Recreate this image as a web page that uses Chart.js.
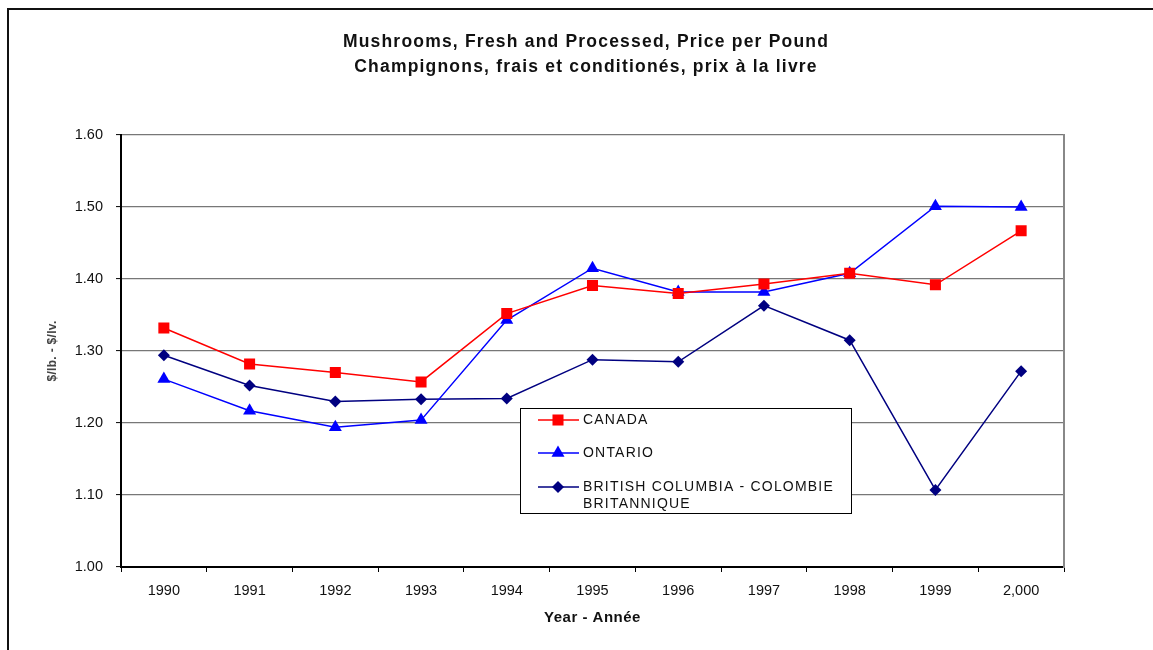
<!DOCTYPE html>
<html>
<head>
<meta charset="utf-8">
<script src="https://cdn.jsdelivr.net/npm/chart.js@4/dist/chart.umd.min.js"></script>
<style>
  html, body { margin: 0; padding: 0; background: #fff; }
  #wrap { width: 1153px; height: 650px; position: relative; }
</style>
</head>
<body>
<div id="wrap"><canvas id="c" width="1153" height="650"></canvas></div>
<script>
const titleLines = ['Mushrooms, Fresh and Processed, Price per Pound', 'Champignons, frais et conditionés, prix à la livre'];
const xTitle = 'Year - Année';
const yTitle = '$/lb. - $/lv.';
const years = ['1990', '1991', '1992', '1993', '1994', '1995', '1996', '1997', '1998', '1999', '2,000'];
const seriesNames = ['CANADA', 'ONTARIO', 'BRITISH COLUMBIA - COLOMBIE BRITANNIQUE'];
const canada  = [1.332, 1.282, 1.270, 1.257, 1.352, 1.391, 1.380, 1.393, 1.408, 1.392, 1.467];
const ontario = [1.261, 1.217, 1.194, 1.204, 1.343, 1.415, 1.382, 1.382, 1.408, 1.501, 1.500];
const bc      = [1.294, 1.252, 1.230, 1.233, 1.234, 1.288, 1.285, 1.363, 1.315, 1.107, 1.272];
const yMin = 1.0, yMax = 1.6, yStep = 0.1;

const FONT = '"Liberation Sans", Arial, sans-serif';

function spaced(ctx, px) { if ('letterSpacing' in ctx) ctx.letterSpacing = px + 'px'; }

const frame = {
  id: 'frame',
  afterDraw(chart) {
    const ctx = chart.ctx;
    ctx.save();
    ctx.strokeStyle = '#111';
    ctx.lineWidth = 2;
    ctx.beginPath();
    ctx.moveTo(8, 650);
    ctx.lineTo(8, 9);
    ctx.lineTo(1153, 9);
    ctx.stroke();
    ctx.restore();
  }
};

const texts = {
  id: 'texts',
  afterDraw(chart) {
    const ctx = chart.ctx;
    ctx.save();
    ctx.fillStyle = '#111';
    ctx.textAlign = 'center';
    ctx.textBaseline = 'middle';
    ctx.font = 'bold 17.5px ' + FONT;
    spaced(ctx, 1.2);
    ctx.fillText(titleLines[0], 586, 42);
    ctx.fillText(titleLines[1], 586, 67);
    ctx.font = 'bold 15px ' + FONT;
    spaced(ctx, 0.5);
    const a = chart.chartArea;
    ctx.fillText(xTitle, (a.left + a.right) / 2, 618);
    ctx.restore();

    ctx.save();
    ctx.translate(53, 351);
    ctx.rotate(-Math.PI / 2);
    ctx.font = 'bold 12px ' + FONT;
    spaced(ctx, 0.3);
    ctx.fillStyle = '#444';
    ctx.textAlign = 'center';
    ctx.textBaseline = 'middle';
    ctx.fillText(yTitle, 0, 0);
    ctx.restore();
  }
};

const boxLegend = {
  id: 'boxLegend',
  afterDraw(chart) {
    const ctx = chart.ctx;
    const x0 = 520, y0 = 408, w = 331, h = 105;
    ctx.save();
    ctx.fillStyle = '#fff';
    ctx.fillRect(x0, y0, w, h);
    ctx.strokeStyle = '#000';
    ctx.lineWidth = 1;
    ctx.strokeRect(x0 + 0.5, y0 + 0.5, w, h);
    const rows = [420, 453, 487];
    ctx.font = '14px ' + FONT;
    spaced(ctx, 1.2);
    ctx.textBaseline = 'middle';
    ctx.textAlign = 'left';
    chart.data.datasets.forEach((ds, i) => {
      const y = rows[i];
      ctx.strokeStyle = ds.borderColor;
      ctx.lineWidth = ds.borderWidth;
      ctx.beginPath();
      ctx.moveTo(538, y);
      ctx.lineTo(579, y);
      ctx.stroke();
      ctx.fillStyle = ds.pointBackgroundColor;
      Chart.helpers.drawPoint(ctx, {pointStyle: ds.pointStyle, radius: ds.pointRadius, rotation: 0, borderWidth: 0}, 558, y);
      ctx.fillStyle = '#111';
      const lines = ds.legendLines || [ds.label];
      lines.forEach((t, k) => ctx.fillText(t, 583, y + k * 17));
    });
    ctx.restore();
  }
};

new Chart(document.getElementById('c'), {
  type: 'line',
  data: {
    labels: years,
    datasets: [
      { label: seriesNames[0], data: canada, borderColor: '#ff0000', backgroundColor: '#ff0000',
        pointBackgroundColor: '#ff0000', pointBorderColor: '#ff0000', pointStyle: 'rect', pointRadius: 7.8, pointBorderWidth: 0,
        borderWidth: 1.5, tension: 0 },
      { label: seriesNames[1], data: ontario, borderColor: '#0000ff', backgroundColor: '#0000ff',
        pointBackgroundColor: '#0000ff', pointBorderColor: '#0000ff', pointStyle: 'triangle', pointRadius: 7.5, pointBorderWidth: 0,
        borderWidth: 1.5, tension: 0 },
      { label: seriesNames[2], legendLines: ['BRITISH COLUMBIA - COLOMBIE', 'BRITANNIQUE'], data: bc, borderColor: '#000080', backgroundColor: '#000080',
        pointBackgroundColor: '#000080', pointBorderColor: '#000080', pointStyle: 'rectRot', pointRadius: 6, pointBorderWidth: 0,
        borderWidth: 1.5, tension: 0 }
    ]
  },
  options: {
    responsive: false,
    animation: false,
    layout: { padding: { left: 17, top: 135, right: 0, bottom: 0 } },
    plugins: {
      legend: { display: false },
      tooltip: { enabled: false },
      title: { display: false }
    },
    scales: {
      x: {
        offset: true,
        grid: { offset: true, drawOnChartArea: false, drawTicks: true, tickLength: 5, tickColor: '#000', tickWidth: 1 },
        border: { color: '#000', width: 2 },
        ticks: { color: '#111', font: { family: FONT, size: 14.5 }, padding: 10, autoSkip: false, maxRotation: 0 },
        afterFit(s) { s.height = 83; }
      },
      y: {
        min: yMin, max: yMax,
        grid: { color: '#777', lineWidth: 1.2, tickLength: 5, tickColor: '#000', tickWidth: 1 },
        border: { color: '#000', width: 2 },
        ticks: { stepSize: yStep, color: '#111', font: { family: FONT, size: 14.5 }, padding: 13,
                 callback: v => Number(v).toFixed(2) },
        afterFit(s) { s.width = 104; }
      },
      y2: {
        position: 'right',
        display: true,
        grid: { display: false, drawTicks: false },
        border: { display: true, color: '#888', width: 2 },
        ticks: { display: false },
        afterFit(s) { s.width = 89; }
      }
    }
  },
  plugins: [frame, texts, boxLegend]
});
</script>
</body>
</html>
